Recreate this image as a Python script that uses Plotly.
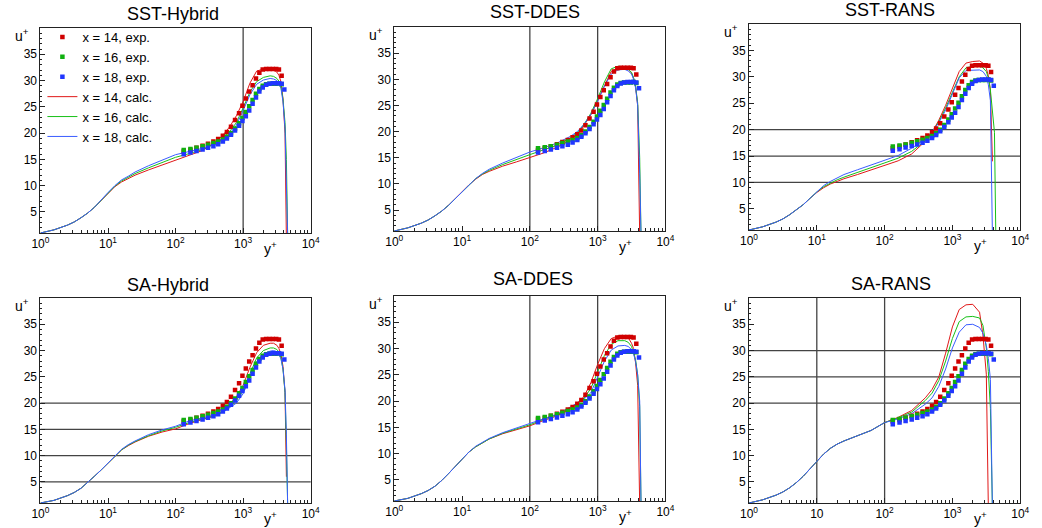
import plotly.graph_objects as go

W, H = 1042, 528
FONT = "Liberation Sans, Arial, sans-serif"

# ---------------- data ----------------
TITLES = ["SST-Hybrid", "SST-DDES", "SST-RANS", "SA-Hybrid", "SA-DDES", "SA-RANS"]
SERIES_NAMES = ["x = 14", "x = 16", "x = 18"]

X_TICKVALS = [1, 10, 100, 1000, 10000]
X_TICKTEXT = ["10<sup>0</sup>", "10<sup>1</sup>", "10<sup>2</sup>", "10<sup>3</sup>", "10<sup>4</sup>"]
X_TICKTEXT_SA_RANS = ["10<sup>0</sup>", "10", "10<sup>2</sup>", "10<sup>3</sup>", "10<sup>4</sup>"]
Y_TICKVALS = [5, 10, 15, 20, 25, 30, 35]

# experimental profiles (same in every panel)
YP_EXP = [132, 166, 204, 251, 302, 363, 427, 501, 575, 661, 759, 871, 977, 1096,
          1230, 1380, 1549, 1738, 1950, 2188, 2455, 2754, 3090, 3388, 3715, 4074]
U_EXP_14 = [16.5, 16.8, 17.2, 17.6, 18.0, 18.4, 18.9, 19.5, 20.2, 21.2, 22.5, 23.8, 25.2, 26.6,
            27.9, 29.1, 30.4, 31.5, 32.1, 32.2, 32.2, 32.2, 32.2, 32.1, 30.9, None]
U_EXP_16 = [16.8, 17.0, 17.2, 17.5, 17.8, 18.1, 18.4, 18.8, 19.3, 20.0, 20.9, 21.9, 22.9, 24.0,
            25.1, 26.3, 27.5, 28.4, 29.0, 29.3, 29.4, 29.4, 29.4, 29.5, 29.3, None]
U_EXP_18 = [16.0, 16.3, 16.6, 16.9, 17.2, 17.5, 17.9, 18.4, 19.0, 19.7, 20.5, 21.4, 22.3, 23.2,
            24.3, 25.6, 26.8, 27.9, 28.7, 29.2, 29.4, 29.5, 29.5, 29.5, 29.4, 28.3]

# calculated profiles, all on the same y+ grid
YP_CALC = [1, 1.585, 2.512, 3.162, 3.981, 5.012, 6.310, 7.943, 10, 12.59, 15.85, 19.95, 25.12,
           39.81, 63.10, 100, 158.5, 251.2, 398.1, 501.2, 631.0, 794.3, 1000, 1259, 1585, 1995,
           2512, 2818, 3162, 3388, 3631, 3890, 4169, 4365, 4571, 4786]

SST_HYBRID_14 = [1.0, 1.6, 2.5, 3.1, 3.9, 4.8, 5.9, 7.2, 8.6, 9.8, 10.7, 11.4, 12.0, 13.0, 13.9,
                 14.9, 15.7, 16.7, 18.4, 19.6, 21.2, 23.3, 26.0, 29.5, 31.8, 32.2, 32.2, 32.0, 31.6,
                 31.0, 29.8, 26.5, 20.0, 0, None, None]
SST_HYBRID_16 = [1.0, 1.6, 2.5, 3.1, 3.9, 4.8, 5.9, 7.2, 8.6, 9.9, 10.9, 11.6, 12.3, 13.4, 14.4,
                 15.4, 16.1, 16.9, 18.1, 19.0, 20.3, 22.0, 24.8, 27.8, 29.8, 30.6, 30.9, 30.8, 30.4,
                 29.9, 28.8, 26.5, 22.0, 15.0, 0, 0]
SST_HYBRID_18 = [1.0, 1.6, 2.5, 3.1, 3.9, 4.8, 5.9, 7.2, 8.7, 10.0, 11.1, 11.8, 12.6, 13.8, 14.9,
                 15.9, 16.5, 17.1, 18.0, 18.8, 19.9, 21.5, 24.3, 27.3, 29.3, 30.1, 30.4, 30.3, 30.0,
                 29.5, 28.5, 26.0, 21.0, 8.0, 0, 0]

SST_DDES_14 = [1.0, 1.6, 2.5, 3.1, 3.9, 4.8, 5.9, 7.2, 8.6, 9.8, 10.9, 11.8, 12.4, 13.4, 14.2,
               15.0, 15.9, 17.0, 18.4, 19.5, 21.2, 23.2, 25.9, 28.9, 31.5, 32.2, 32.2, 31.9, 31.2,
               30.2, 28.5, 25.0, 0, 0, 0, 0]
SST_DDES_16 = [1.0, 1.6, 2.5, 3.1, 3.9, 4.8, 5.9, 7.2, 8.6, 9.9, 11.0, 11.9, 12.6, 13.7, 14.7,
               15.6, 16.5, 17.4, 18.8, 19.8, 21.4, 23.5, 26.3, 29.5, 32.0, 32.5, 32.4, 32.0, 31.3,
               30.3, 28.6, 25.5, 15.0, 0, 0, 0]
SST_DDES_18 = [1.0, 1.6, 2.5, 3.1, 3.9, 4.8, 5.9, 7.2, 8.6, 9.9, 11.0, 12.0, 12.8, 14.0, 15.1,
               16.1, 16.9, 17.8, 19.1, 20.0, 21.4, 23.3, 25.8, 28.7, 31.0, 31.8, 31.9, 31.6, 31.0,
               30.0, 28.3, 25.0, 12.0, 0, 0, 0]

SST_RANS_14 = [1.0, 1.6, 2.5, 3.1, 3.9, 4.8, 5.8, 7.0, 8.1, 9.0, 9.7, 10.2, 10.7, 11.5, 12.4,
               13.3, 14.1, 15.4, 17.8, 19.5, 21.8, 24.6, 27.9, 31.0, 32.6, 32.9, 33.0, 32.6, 31.6,
               30.2, 27.5, 14.0, None, None, None, None]
SST_RANS_16 = [1.0, 1.6, 2.5, 3.1, 3.9, 4.8, 5.8, 7.0, 8.2, 9.2, 9.9, 10.5, 11.0, 11.9, 12.8,
               13.7, 14.6, 15.9, 17.9, 19.5, 21.5, 24.1, 27.0, 30.0, 31.7, 32.0, 32.1, 31.7, 31.0,
               29.8, 27.5, 24.0, 19.5, 0, 0, 0]
SST_RANS_18 = [1.0, 1.6, 2.5, 3.1, 3.9, 4.8, 5.8, 7.0, 8.3, 9.4, 10.2, 10.9, 11.5, 12.4, 13.3,
               14.3, 15.1, 16.5, 18.2, 19.6, 21.3, 23.7, 26.6, 29.8, 31.2, 31.3, 31.3, 31.0, 30.1,
               28.5, 25.5, 0, 0, 0, 0, 0]

SA_HYBRID_14 = [1.0, 1.5, 2.4, 3.0, 3.8, 4.9, 6.1, 7.3, 8.6, 9.9, 11.1, 11.9, 12.6, 13.7, 14.5,
                15.1, 16.1, 16.9, 17.6, 18.5, 19.8, 21.2, 23.4, 26.8, 29.6, 31.0, 31.4, 31.4, 31.0,
                30.4, 29.3, 27.0, 22.0, 6.0, None, None]
SA_HYBRID_16 = [1.0, 1.5, 2.4, 3.0, 3.8, 4.9, 6.1, 7.3, 8.6, 9.9, 11.1, 12.0, 12.7, 13.8, 14.7,
                15.4, 16.3, 17.0, 17.7, 18.4, 19.4, 20.5, 22.4, 25.7, 28.6, 30.0, 30.5, 30.5, 30.2,
                29.7, 28.6, 26.5, 22.0, 12.0, 0, 0]
SA_HYBRID_18 = [1.0, 1.5, 2.4, 3.0, 3.8, 4.9, 6.1, 7.3, 8.6, 10.0, 11.2, 12.1, 12.8, 14.0, 14.9,
                15.6, 16.6, 17.2, 17.8, 18.3, 19.1, 20.0, 21.8, 25.0, 27.9, 29.3, 29.9, 30.0, 29.8,
                29.3, 28.4, 26.5, 22.5, 14.0, 0, 0]

SA_DDES_14 = [1.0, 1.5, 2.4, 3.0, 3.8, 4.9, 6.2, 7.6, 9.0, 10.3, 11.3, 12.1, 12.8, 13.8, 14.6,
              15.3, 16.3, 17.2, 18.5, 19.5, 20.9, 23.5, 27.0, 30.0, 31.9, 32.4, 32.4, 32.1, 31.0,
              30.0, 27.2, 23.0, 0, 0, 0, 0]
SA_DDES_16 = [1.0, 1.5, 2.4, 3.0, 3.8, 4.9, 6.2, 7.6, 9.0, 10.3, 11.3, 12.1, 12.8, 13.9, 14.7,
              15.5, 16.5, 17.4, 18.7, 19.6, 20.6, 22.4, 25.6, 28.7, 30.8, 31.5, 31.5, 31.2, 30.4,
              29.3, 27.8, 25.0, 19.0, 0, 0, 0]
SA_DDES_18 = [1.0, 1.5, 2.4, 3.0, 3.8, 4.9, 6.2, 7.6, 9.0, 10.3, 11.4, 12.2, 12.9, 14.0, 14.9,
              15.7, 16.6, 17.5, 18.9, 19.6, 20.4, 21.6, 24.5, 27.6, 29.7, 30.5, 30.6, 30.4, 29.8,
              29.0, 27.5, 25.0, 20.0, 0, 0, 0]

SA_RANS_14 = [1.0, 1.6, 2.5, 3.1, 3.9, 4.9, 6.1, 7.5, 8.9, 10.3, 11.4, 12.2, 12.8, 13.8, 14.8,
              16.3, 17.3, 18.6, 21.0, 22.6, 25.0, 29.5, 34.5, 37.8, 38.7, 38.8, 37.3, 33.0, 25.5,
              0, 0, 0, 0, 0, 0, 0]
SA_RANS_16 = [1.0, 1.6, 2.5, 3.1, 3.9, 4.9, 6.1, 7.5, 8.9, 10.3, 11.4, 12.2, 12.8, 13.8, 14.8,
              16.3, 17.2, 18.3, 20.5, 21.9, 24.3, 28.0, 32.3, 35.5, 36.4, 36.5, 36.2, 34.8, 30.5,
              26.0, 19.0, 0, 0, 0, 0, 0]
SA_RANS_18 = [1.0, 1.6, 2.5, 3.1, 3.9, 4.9, 6.1, 7.5, 8.9, 10.3, 11.4, 12.2, 12.8, 13.8, 14.8,
              16.3, 17.0, 18.0, 19.8, 21.0, 23.2, 26.5, 30.5, 33.5, 34.9, 35.0, 34.4, 33.3, 31.0,
              28.5, 24.5, 0, 0, 0, 0, 0]

CALC = [
    [SST_HYBRID_14, SST_HYBRID_16, SST_HYBRID_18],
    [SST_DDES_14, SST_DDES_16, SST_DDES_18],
    [SST_RANS_14, SST_RANS_16, SST_RANS_18],
    [SA_HYBRID_14, SA_HYBRID_16, SA_HYBRID_18],
    [SA_DDES_14, SA_DDES_16, SA_DDES_18],
    [SA_RANS_14, SA_RANS_16, SA_RANS_18],
]
EXP = [U_EXP_14, U_EXP_16, U_EXP_18]

# grid lines drawn in each panel
V_GRID = [[1000], [100, 1000], [], [], [100, 1000], [10, 100]]
H_GRID = [[], [], [10, 15, 20], [5, 10, 15, 20], [], [20, 25, 30]]

# ---------------- style / layout ----------------
LINE_COLORS = ["#e01818", "#18c018", "#3a5cff"]
MARK_COLORS = ["#d00000", "#10b010", "#2036ff"]

# plot boxes in window pixels: (left, top, right, bottom)
BOXES = [(32, 28, 307, 233), (392, 27, 668, 231), (753, 24, 1029, 230),
         (32, 298, 307, 503), (392, 296, 668, 501), (753, 298, 1029, 503)]
TITLE_POS = [(167, 14), (535, 12), (896, 10), (162, 285), (533, 279), (897, 284)]


def fx(px):
    return px / W


def fy(py):
    return 1 - py / H


fig = go.Figure()
layout = dict(width=W, height=H, margin=dict(l=0, r=0, t=0, b=0),
              paper_bgcolor="white", plot_bgcolor="white",
              font=dict(family=FONT, size=12, color="black"),
              showlegend=True)
annotations = []
shapes = []

for i in range(6):
    n = "" if i == 0 else str(i + 1)
    xa, ya = "x" + n, "y" + n
    l, t, r, b = BOXES[i]
    axis_common = dict(showline=True, linecolor="#222", linewidth=1, mirror=True,
                       showgrid=False, zeroline=False, ticks="inside", tickcolor="#222",
                       ticklen=5, tickfont=dict(family=FONT, size=12, color="black"))
    layout["xaxis" + n] = dict(axis_common, type="log", range=[0, 4],
                               domain=[fx(l), fx(r)], anchor=ya,
                               tickmode="array", tickvals=X_TICKVALS,
                               ticktext=X_TICKTEXT_SA_RANS if i == 5 else X_TICKTEXT,
                               minor=dict(ticks="inside", ticklen=3, dtick="D1", tickcolor="#222",
                                          showgrid=False))
    layout["yaxis" + n] = dict(axis_common, range=[1, 40],
                               domain=[fy(b), fy(t)], anchor=xa,
                               tickmode="array", tickvals=Y_TICKVALS,
                               minor=dict(ticks="inside", ticklen=2, dtick=1, tickcolor="#222",
                                          showgrid=False))

    for v in V_GRID[i]:
        shapes.append(dict(type="line", xref=xa, yref=ya + " domain", x0=v, x1=v, y0=0, y1=1,
                           line=dict(color="#444", width=1.3), layer="below"))
    for hv in H_GRID[i]:
        shapes.append(dict(type="line", xref=xa + " domain", yref=ya, x0=0, x1=1, y0=hv, y1=hv,
                           line=dict(color="#444", width=1.3), layer="below"))

    for k in range(3):
        fig.add_trace(go.Scatter(
            x=YP_CALC, y=CALC[i][k], mode="lines", xaxis=xa, yaxis=ya,
            line=dict(color=LINE_COLORS[k], width=1),
            name=SERIES_NAMES[k] + ", calc.", legendrank=4 + k,
            showlegend=(i == 0), connectgaps=False))
    for k in range(3):
        fig.add_trace(go.Scatter(
            x=YP_EXP, y=EXP[k], mode="markers", xaxis=xa, yaxis=ya,
            marker=dict(symbol="square", size=4.5, color=MARK_COLORS[k], line=dict(width=0)),
            name=SERIES_NAMES[k] + ", exp.", legendrank=1 + k,
            showlegend=(i == 0), cliponaxis=True))

    tx, ty = TITLE_POS[i]
    annotations.append(dict(text=TITLES[i], xref="paper", yref="paper", x=fx(tx), y=fy(ty),
                            xanchor="center", yanchor="middle", showarrow=False,
                            font=dict(family=FONT, size=18, color="black")))
    annotations.append(dict(text="u<sup>+</sup>", xref=xa + " domain", yref=ya + " domain",
                            x=-0.067, y=0.965, xanchor="center", yanchor="middle",
                            showarrow=False, font=dict(family=FONT, size=14, color="black")))
    annotations.append(dict(text="y<sup>+</sup>", xref=xa + " domain", yref=ya + " domain",
                            x=0.852, y=-0.02, xanchor="center", yanchor="top",
                            showarrow=False, font=dict(family=FONT, size=14, color="black")))

layout["annotations"] = annotations
layout["shapes"] = shapes
layout["legend"] = dict(x=fx(34), y=fy(22), xanchor="left", yanchor="top",
                        bgcolor="rgba(0,0,0,0)", borderwidth=0, tracegroupgap=0,
                        itemwidth=30, font=dict(family=FONT, size=13, color="black"))
fig.update_layout(**layout)
# the page's default 8 px body margin would push the figure off the window
fig.write_html("out.html", config={"displayModeBar": False},
               post_script="document.body.style.margin='0px';")
